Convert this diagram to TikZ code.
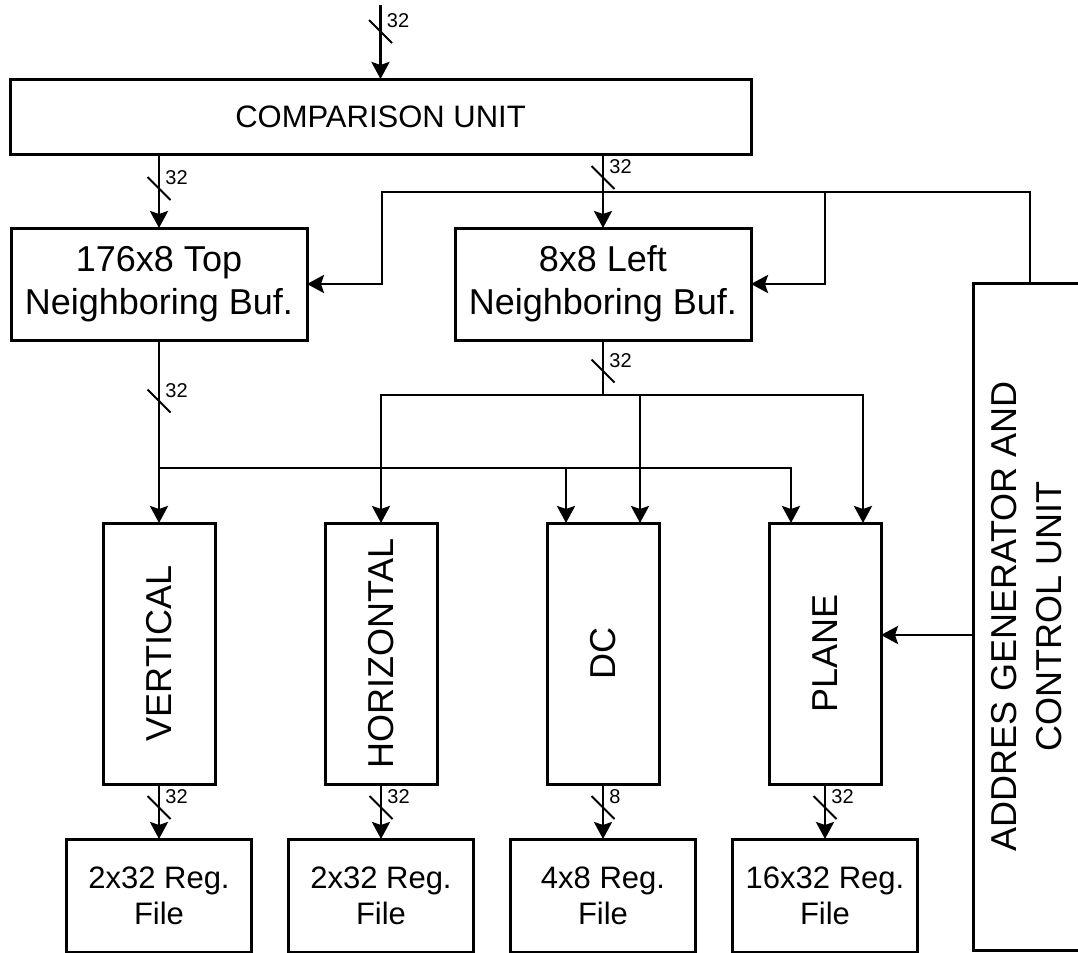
\documentclass[tikz,border=0pt]{standalone}
\usepackage{fontspec}
\setmainfont{Liberation Sans}
\usepackage{graphicx}
\usetikzlibrary{positioning,arrows.meta,calc}
\tikzset{
    blk/.style={draw,line width=1.5pt,inner sep=0pt,outer sep=0pt,align=center},
    cmpbox/.style={blk,minimum width=370.5pt,minimum height=37.5pt,font=\fontsize{15.5}{18}\selectfont},
    bufbox/.style={blk,minimum width=148pt,minimum height=56pt,font=\fontsize{18}{21.5}\selectfont},
    predbox/.style={blk,minimum width=56pt,minimum height=130.5pt,font=\fontsize{18}{21.5}\selectfont},
    regbox/.style={blk,minimum width=92.5pt,minimum height=56.5pt,font=\fontsize{15.5}{18}\selectfont},
    ctrlbox/.style={blk,minimum width=57pt,minimum height=333.5pt,font=\fontsize{18}{22.5}\selectfont},
    wire/.style={draw,line width=1.4pt},
    arrow/.style={->,wire,>={Stealth[length=8.5pt,width=9pt,inset=1.5pt]}},
    slash/.style={draw,line width=1pt},
    wlabel/.style={anchor=base west,inner sep=0pt,font=\fontsize{10}{12}\selectfont},
    pics/busw/.style={code={
        \draw[slash] (-11.5,-11.5) -- (11.5,11.5);
        \node[wlabel] (-lbl) at (6,-4) {#1};}}
}

\begin{document}
\begin{tikzpicture}[x=0.5pt,y=-0.5pt]
    \useasboundingbox (0,0) rectangle (1078,953);
    \node[cmpbox] (comp) at (380.5,116.5) {COMPARISON UNIT};
    \node[bufbox] (topbuf) at (159,284) {176x8 Top\\Neighboring Buf.};
    \node[bufbox,right=74pt of topbuf] (leftbuf) {8x8 Left\\Neighboring Buf.};
    \node[predbox] (vert) at (159,653.5) {\rotatebox{90}{VERTICAL}};
    \node[predbox,right=55pt of vert] (horz) {\rotatebox{90}{HORIZONTAL}};
    \node[predbox,right=55pt of horz] (dc) {\rotatebox{90}{DC}};
    \node[predbox,right=55pt of dc] (plane) {\rotatebox{90}{PLANE}};
    \node[regbox,below=27.5pt of vert] (vreg) {2x32 Reg.\\File};
    \node[regbox,below=27.5pt of horz] (hreg) {2x32 Reg.\\File};
    \node[regbox,below=27.5pt of dc] (dcreg) {4x8 Reg.\\File};
    \node[regbox,below=27.5pt of plane] (preg) {16x32 Reg.\\File};
    \node[ctrlbox] (ctrl) at (1030,616.5) {\rotatebox{90}{\begin{tabular}{@{}c@{}}ADDRES GENERATOR AND\\CONTROL UNIT\end{tabular}}};

    \coordinate (src) at (380.5,5);
    \coordinate (fb) at (382,192);
    \coordinate (fr) at (825,192);
    \coordinate (tbus) at (0,468);
    \coordinate (lbus) at (0,395);
    \coordinate (cy) at (0,635);
    \coordinate (dcl) at ($(dc.north)+(-37,0)$);
    \coordinate (dcr) at ($(dc.north)+(37,0)$);
    \coordinate (pll) at ($(plane.north)+(-34,0)$);
    \coordinate (plr) at ($(plane.north)+(38,0)$);

    \draw[arrow] (src) -- (comp.north);
    \pic (w0) at (380.5,31.5) {busw=32};
    \draw[arrow] (comp.south -| topbuf) -- (topbuf.north);
    \pic (w1) at ($(topbuf.north)+(0,-39.5)$) {busw=32};
    \draw[arrow] (comp.south -| leftbuf) -- (leftbuf.north);
    \pic (w2) at ($(leftbuf.north)+(0,-50.5)$) {busw=32};

    \draw[arrow] (ctrl.north) |- (fb) |- (topbuf.east);
    \draw[arrow] (fr) |- (leftbuf.east);

    \draw[arrow] (topbuf.south) -- (vert.north);
    \pic (w3) at ($(topbuf.south)+(0,61)$) {busw=32};
    \draw[wire,line cap=rect] (vert.north |- tbus) -- (pll |- tbus);
    \draw[arrow] (dcl |- tbus) -- (dcl);
    \draw[arrow] (pll |- tbus) -- (pll);

    \draw[wire] (leftbuf.south) -- (leftbuf.south |- lbus);
    \pic (w4) at ($(leftbuf.south)+(0,31)$) {busw=32};
    \draw[wire,line cap=rect] (horz.north |- lbus) -- (plr |- lbus);
    \draw[arrow] (horz.north |- lbus) -- (horz.north);
    \draw[arrow] (dcr |- lbus) -- (dcr);
    \draw[arrow] (plr |- lbus) -- (plr);

    \draw[arrow] (ctrl.west |- cy) -- (plane.east |- cy);

    \draw[arrow] (vert) -- (vreg);
    \pic (w5) at ($(vert.south)+(0,23.5)$) {busw=32};
    \draw[arrow] (horz) -- (hreg);
    \pic (w6) at ($(horz.south)+(0,23.5)$) {busw=32};
    \draw[arrow] (dc) -- (dcreg);
    \pic (w7) at ($(dc.south)+(0,23.5)$) {busw=8};
    \draw[arrow] (plane) -- (preg);
    \pic (w8) at ($(plane.south)+(0,23.5)$) {busw=32};
\end{tikzpicture}
\end{document}
